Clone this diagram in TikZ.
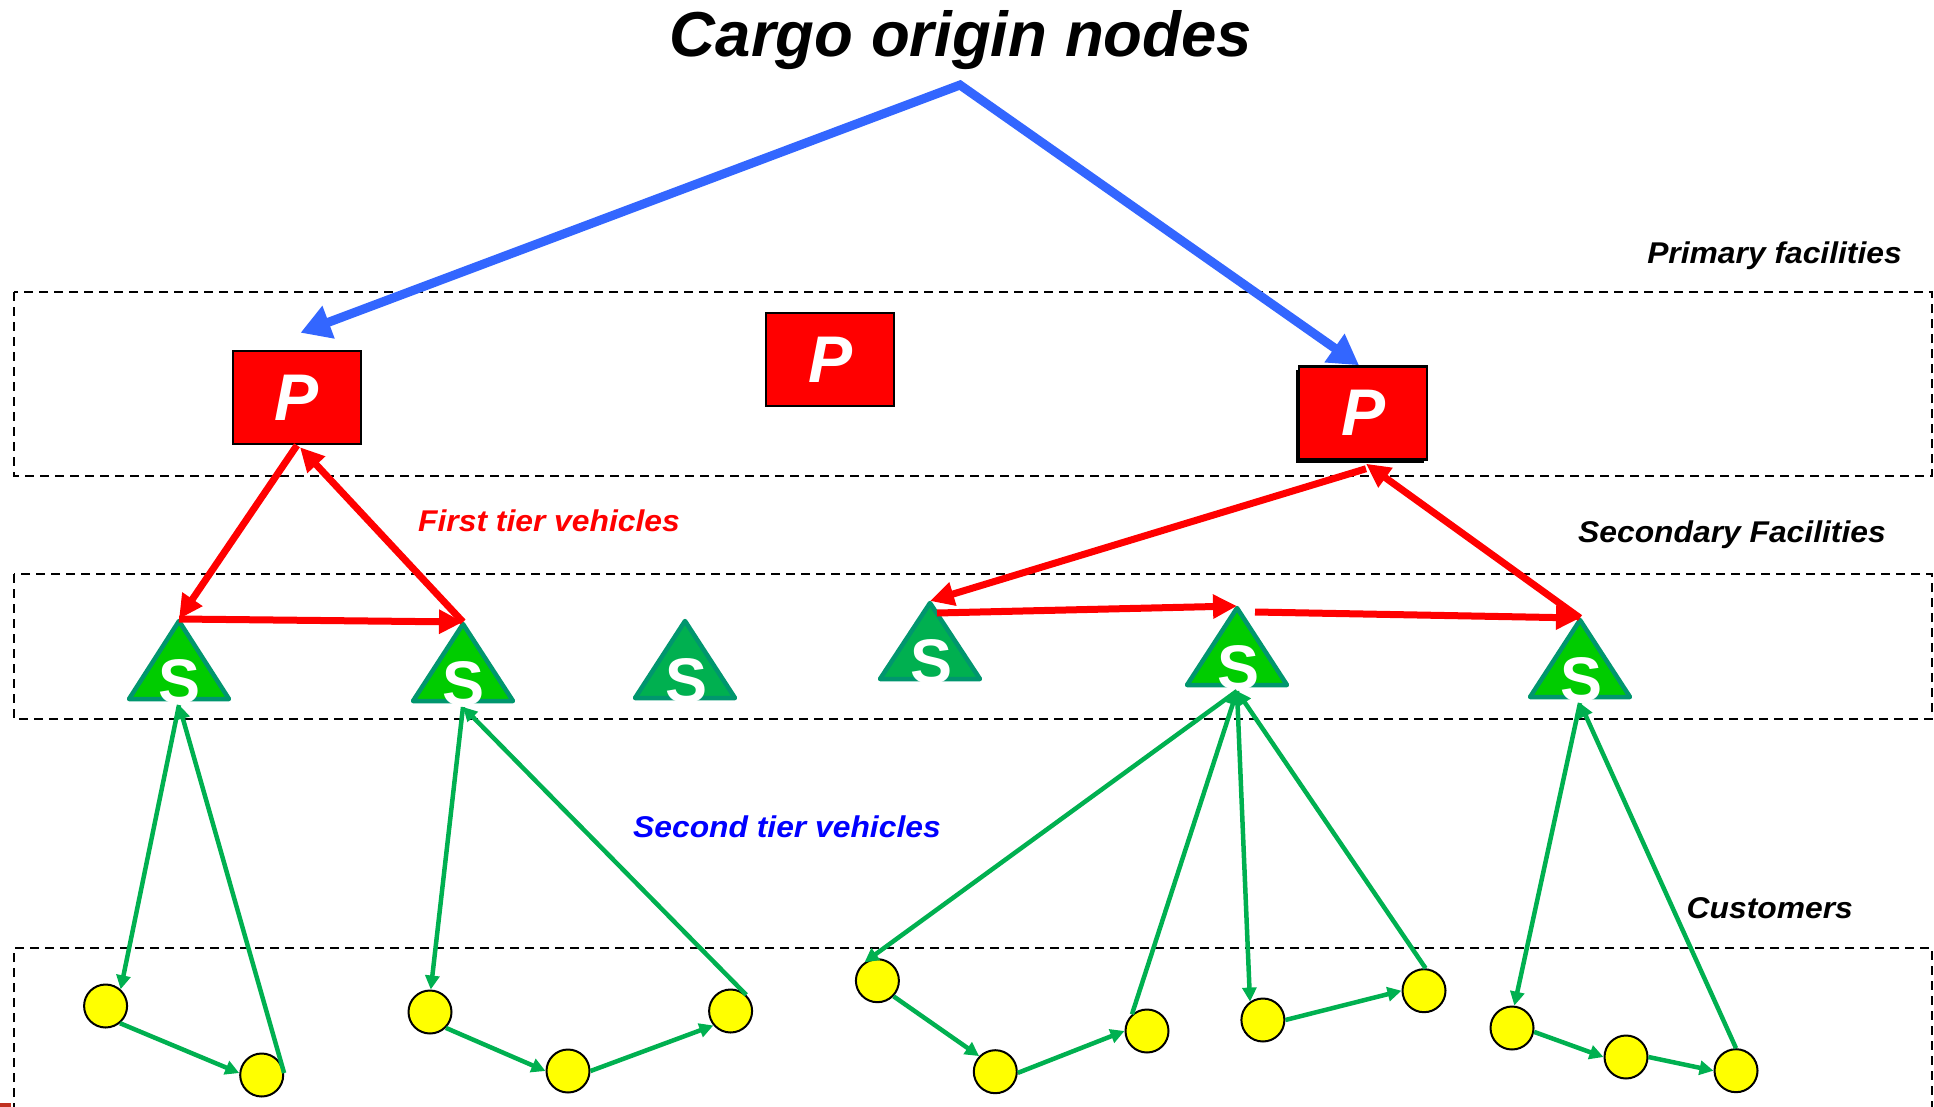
\documentclass[tikz,border=0pt]{standalone}
\usepackage{fontspec}
\setmainfont{Liberation Sans}
\newfontfamily\labelfont{Liberation Sans}[FakeStretch=1.06]
\usetikzlibrary{arrows.meta,shadows}

\definecolor{pred}{RGB}{255,0,0}
\definecolor{routeblue}{RGB}{51,102,255}
\definecolor{tealedge}{RGB}{0,150,110}
\definecolor{sgreen}{RGB}{0,204,0}
\definecolor{sdark}{RGB}{0,176,80}
\definecolor{lgreen}{RGB}{0,176,80}
\definecolor{custyellow}{RGB}{255,255,0}
\definecolor{labelblue}{RGB}{0,0,255}
\definecolor{markred}{RGB}{192,48,32}

% secondary facility: name, x, apex y, base y, fill colour
\newcommand{\satellite}[5]{%
  \filldraw[fill=#5, draw=tealedge, line width=4.5pt, line join=round]
    (#2,#3+2) -- (#2+50,#4-2) -- (#2-50,#4-2) -- cycle;
  \coordinate (#1t) at (#2,#3);
  \coordinate (#1b) at (#2,#4+4);
  \node[sletter] (#1) at (#2+1,#4+2) {S};
}

\begin{document}
\begin{tikzpicture}[x=1pt,y=-1pt,
  zone/.style={draw=black, line width=2pt, dash pattern=on 9pt off 6pt},
  primary/.style={draw=black, line width=2.5pt, fill=pred, minimum width=128pt,
    minimum height=93pt, inner sep=0pt, text=white,
    font=\fontsize{66}{66}\selectfont\bfseries\itshape},
  sletter/.style={anchor=base, inner sep=0pt, text=white,
    font=\fontsize{63}{63}\selectfont\bfseries},
  cust/.style={circle, draw=black, line width=2pt, fill=custyellow,
    minimum size=43pt, inner sep=0pt},
  tier1/.style={draw=pred, line width=7pt, -{Triangle[length=24pt,width=23pt]}},
  tier2/.style={draw=lgreen, line width=4.5pt, -{Triangle[length=14pt,width=14pt]}},
  feed/.style={draw=routeblue, line width=9pt,
    {Triangle[length=30pt,width=33pt]}-{Triangle[length=30pt,width=33pt]}},
  caption/.style={font=\labelfont\fontsize{30}{34}\selectfont\bfseries\itshape,
    inner sep=0pt},
]
\useasboundingbox (0,0) rectangle (1934,1107);

% tier zones
\draw[zone] (14,292) rectangle (1932,476);
\draw[zone] (14,574) rectangle (1932,719);
\draw[zone] (14,1112) -- (14,948) -- (1932,948) -- (1932,1112);
\fill[markred] (0,1103) rectangle (11,1107);

% title and side captions
\node[anchor=base, inner sep=0pt, font=\fontsize{63.5}{70}\selectfont\bfseries\itshape]
  (title) at (961,57) {Cargo origin nodes};
\coordinate (origin) at (960,85);
\node[caption, anchor=base east] (lblP) at (1902,263) {Primary facilities};
\node[caption, anchor=base west] (lblS) at (1578,542) {Secondary Facilities};
\node[caption, anchor=base east] (lblC) at (1853,918) {Customers};
\node[caption, anchor=base west, text=pred] (lblT1) at (418,531) {First tier vehicles};
\node[caption, anchor=base west, text=labelblue] (lblT2) at (633,837) {Second tier vehicles};

% primary facilities
\node[primary] (p1) at (297,397.5) {P};
\node[primary] (p2) at (830,359.5) {P};
\node[primary, drop shadow={shadow xshift=-3.5pt, shadow yshift=-3.5pt,
  fill=black, opacity=1}] (p3) at (1363,413) {P};

% secondary facilities
\satellite{s1}{179}{619}{701}{sgreen}
\satellite{s2}{463}{622}{703}{sgreen}
\satellite{s3}{685}{619}{700}{sdark}
\satellite{s4}{930}{601}{681}{sdark}
\satellite{s5}{1237}{606}{687}{sgreen}
\satellite{s6}{1580}{618}{699}{sgreen}

% customers
\node[cust] (c1)  at (105.6,1006) {};
\node[cust] (c2)  at (261.7,1075) {};
\node[cust] (c3)  at (430,1012) {};
\node[cust] (c4)  at (568,1071) {};
\node[cust] (c5)  at (730.6,1011) {};
\node[cust] (c6)  at (877.4,980.7) {};
\node[cust] (c7)  at (995.3,1071.7) {};
\node[cust] (c8)  at (1147,1031) {};
\node[cust] (c9)  at (1262.9,1020) {};
\node[cust] (c10) at (1424,990.7) {};
\node[cust] (c11) at (1512,1028) {};
\node[cust] (c12) at (1626,1057) {};
\node[cust] (c13) at (1736,1070.7) {};

% cargo flows into the primary facilities
\draw[feed] ([shift={(3.5,-17)}]p1.north) -- (origin) -- ([xshift=-4pt]p3.north);

% first tier routes
\draw[tier1] (p1.south) -- (s1t);
\draw[tier1] (s1t) -- (s2t);
\draw[tier1] (s2t) -- ([shift={(3,2)}]p1.south);
\draw[tier1] ([shift={(3,8)}]p3.south) -- (s4t);
\draw[tier1] ([shift={(7,12)}]s4t) -- (s5t);
\draw[tier1] ([shift={(18,6)}]s5t) -- (s6t);
\draw[tier1] (s6t) -- ([shift={(3,3)}]p3.south);

% second tier routes
\draw[tier2] (s1b) -- (c1.48);
\draw[tier2] (c1.-50) -- (c2.175);
\draw[tier2] (c2.5) -- (s1b);

\draw[tier2] (s2b) -- (c3.88);
\draw[tier2] (c3.-45) -- (c4.180);
\draw[tier2] (c4.0) -- (c5.220);
\draw[tier2] (c5.46) -- (s2b);

\draw[tier2] (s5b) -- (c6.125);
\draw[tier2] (c6.-44) -- (c7.136);
\draw[tier2] (c7.-3) -- (c8.180);
\draw[tier2] (c8.132) -- (s5b);

\draw[tier2] (s5b) -- (c9.125);
\draw[tier2] (c9.0) -- (c10.180);
\draw[tier2] (c10.86) -- (s5b);

\draw[tier2] (s6b) -- (c11.84);
\draw[tier2] (c11.-10) -- (c12.180);
\draw[tier2] (c12.0) -- (c13.180);
\draw[tier2] (c13.90) -- (s6b);
\end{tikzpicture}
\end{document}
